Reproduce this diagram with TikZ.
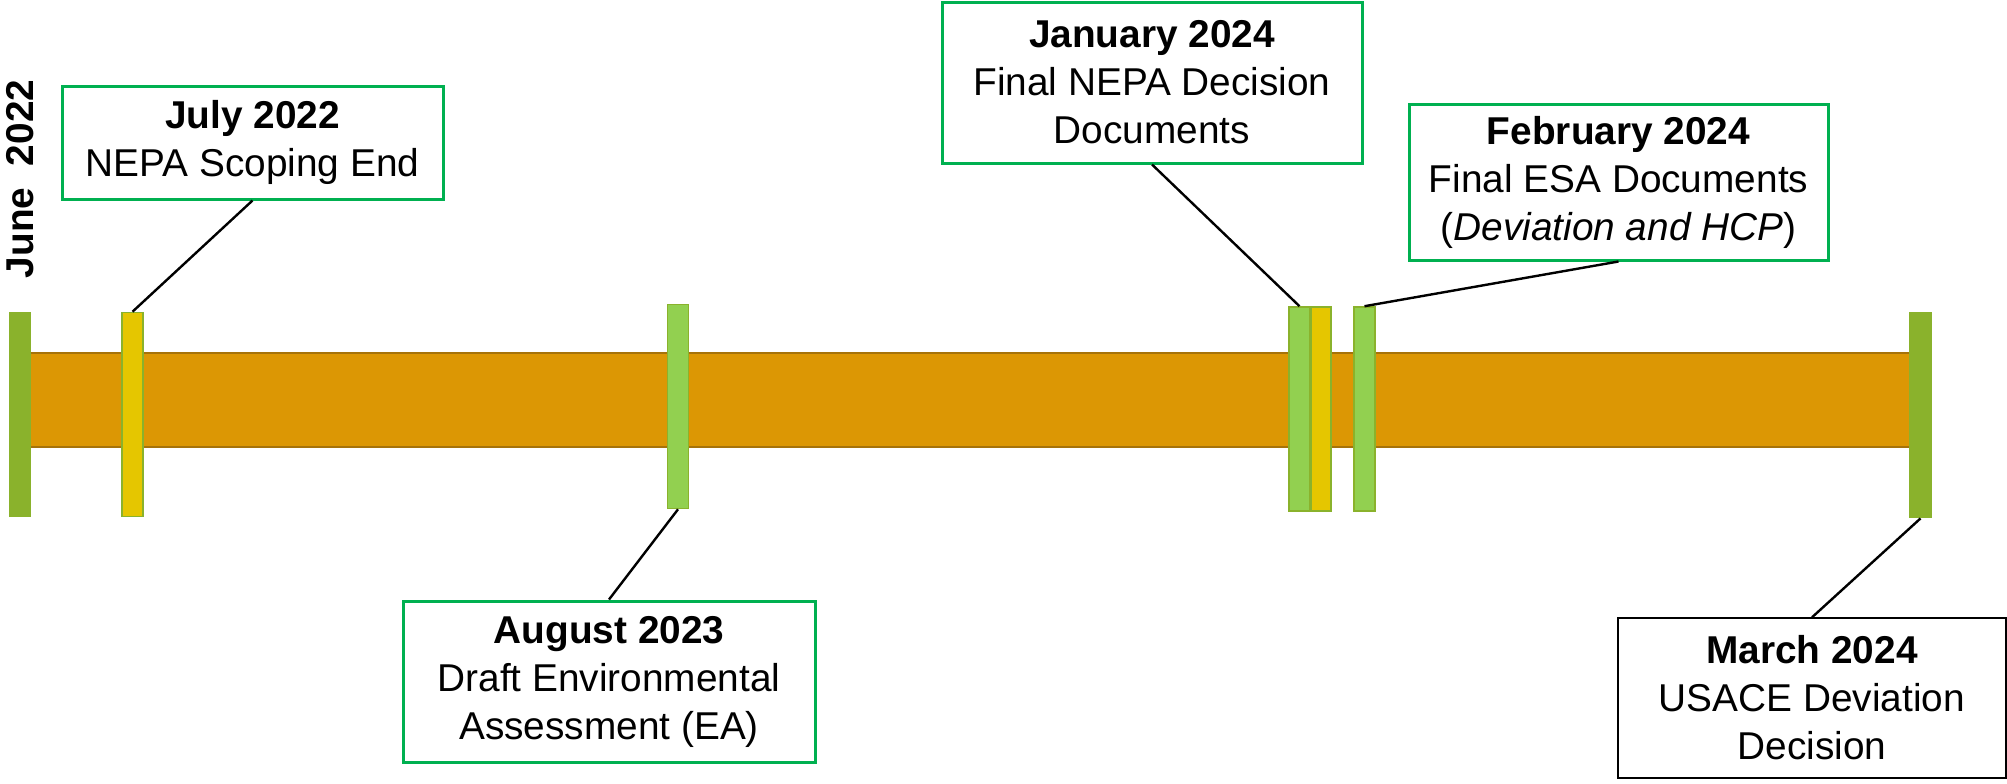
\documentclass[tikz,border=0pt]{standalone}
\usepackage{fontspec}
\setmainfont{Liberation Sans}
\usepackage{tikz}

\definecolor{bandfill}{HTML}{DC9704}
\definecolor{bandedge}{HTML}{A6730A}
\definecolor{barolive}{HTML}{8AB22C}
\definecolor{barlight}{HTML}{92D050}
\definecolor{baryellow}{HTML}{E5C600}
\definecolor{boxgreen}{HTML}{00B050}

\tikzset{
  endbar/.style={rectangle, fill=barolive, inner sep=0pt,
    minimum width=11pt, minimum height=102.5pt},
  markbar/.style={rectangle, draw=barolive, line width=0.8pt, fill=barlight,
    inner sep=0pt, minimum width=10.5pt, minimum height=102pt},
  yellowbar/.style={markbar, fill=baryellow},
  datebox/.style 2 args={rectangle, draw=boxgreen, line width=1.5pt, fill=white,
    align=center, inner sep=0pt, minimum width=#1, minimum height=#2,
    font=\fontsize{19.4pt}{24pt}\selectfont},
  link/.style={line width=1.2pt},
}

\begin{document}
\begin{tikzpicture}[x=0.5pt,y=-0.5pt]
\useasboundingbox (0,0) rectangle (2007,783);
\fill [bandfill] (31,353) rectangle (1909,447);
\draw [bandedge,line width=1pt] (31,353) -- (1909,353) (31,447) -- (1909,447);

\node [endbar] (junebar) at (20,414.5) {};
\node [yellowbar] (julybar) at (132.5,414.5) {};
\node [markbar] (augbar) at (678,406.5) {};
\node [markbar] (janbar) at (1299.5,409) {};
\node [yellowbar, minimum width=10pt] (janbartwo) at (1321,409) {};
\node [markbar] (febbar) at (1364.5,409) {};
\node [endbar, minimum width=11.5pt, minimum height=103pt] (marchbar) at (1920.5,415) {};

\node [rotate=90, inner sep=0pt, font=\fontsize{19.4pt}{24pt}\selectfont\bfseries] (junelabel) at (20,179) {June~~2022};

\node [datebox={190.5pt}{56.5pt}] (julybox) at (252.5,142.5)
  {\textbf{July 2022}\\NEPA Scoping End};
\node [datebox={206pt}{80.5pt}] (augbox) at (609,681.5)
  {\textbf{August 2023}\\Draft Environmental\\Assessment (EA)};
\node [datebox={210pt}{80.5pt}] (janbox) at (1152,82.5)
  {\textbf{January 2024}\\Final NEPA Decision\\Documents};
\node [datebox={209.5pt}{78pt}] (febbox) at (1618.5,182)
  {\textbf{February 2024}\\Final ESA Documents\\(\textit{Deviation and HCP})};
\node [datebox={194pt}{80pt}, draw=black, line width=0.7pt] (marchbox) at (1812,698)
  {\textbf{March 2024}\\USACE Deviation\\Decision};

\draw [link] (julybox.south) -- (julybar.north);
\draw [link] (augbar.south) -- (augbox.north);
\draw [link] (janbox.south) -- (janbar.north);
\draw [link] (febbox.south) -- (febbar.north);
\draw [link] (marchbar.south) -- (marchbox.north);
\end{tikzpicture}
\end{document}
